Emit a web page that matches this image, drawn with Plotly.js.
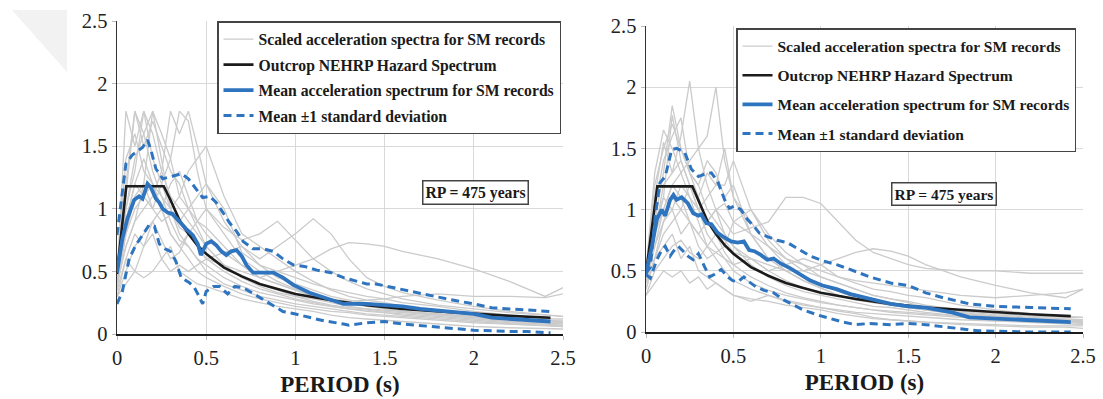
<!DOCTYPE html>
<html>
<head>
<meta charset="utf-8">
<script src="https://cdn.plot.ly/plotly-3.0.1.min.js"></script>
<style>
html,body{margin:0;padding:0;background:#fff;}
#chart{width:1103px;height:399px;}
</style>
</head>
<body>
<div id="chart"></div>
<script>
// ---------------- DATA ----------------
const recordPeriods = [0, 0.05, 0.1, 0.15, 0.2, 0.25, 0.3, 0.35, 0.4, 0.45, 0.5, 0.6, 0.7, 0.8, 0.9, 1.0, 1.1, 1.2, 1.3, 1.4, 1.5, 1.6, 1.8, 2.0, 2.2, 2.4, 2.5];

const leftRecords = [
  [0.5, 1.2, 1.78, 1.6, 1.3, 1.1, 0.9, 0.75, 0.7, 0.6, 0.55, 0.45, 0.38, 0.33, 0.3, 0.27, 0.24, 0.22, 0.2, 0.18, 0.17, 0.15, 0.13, 0.11, 0.09, 0.08, 0.07],
  [0.45, 1.78, 1.5, 1.78, 1.4, 1.2, 1.0, 0.85, 0.8, 0.7, 0.6, 0.5, 0.42, 0.36, 0.32, 0.28, 0.25, 0.22, 0.2, 0.19, 0.17, 0.16, 0.14, 0.12, 0.1, 0.09, 0.08],
  [0.4, 1.0, 1.3, 1.78, 1.6, 1.3, 1.1, 1.0, 0.9, 0.8, 0.7, 0.55, 0.45, 0.38, 0.33, 0.3, 0.26, 0.23, 0.21, 0.2, 0.19, 0.18, 0.16, 0.14, 0.12, 0.1, 0.1],
  [0.35, 0.8, 1.1, 1.2, 1.78, 1.4, 1.0, 0.8, 0.7, 0.6, 0.5, 0.4, 0.35, 0.3, 0.27, 0.24, 0.22, 0.2, 0.18, 0.16, 0.15, 0.14, 0.12, 0.1, 0.08, 0.07, 0.06],
  [0.5, 0.9, 1.2, 1.1, 1.0, 1.2, 1.4, 1.78, 1.7, 1.3, 1.0, 0.8, 0.6, 0.5, 0.42, 0.36, 0.3, 0.27, 0.25, 0.23, 0.2, 0.18, 0.15, 0.13, 0.11, 0.1, 0.1],
  [0.4, 0.7, 0.9, 1.0, 1.1, 1.3, 1.78, 1.6, 1.78, 1.5, 1.2, 0.9, 0.7, 0.55, 0.45, 0.4, 0.35, 0.3, 0.27, 0.25, 0.23, 0.2, 0.17, 0.15, 0.13, 0.11, 0.1],
  [0.5, 0.8, 1.0, 1.1, 1.2, 1.1, 1.0, 1.1, 1.3, 1.4, 1.5, 1.1, 0.8, 0.7, 0.6, 0.5, 0.42, 0.35, 0.3, 0.27, 0.25, 0.22, 0.18, 0.15, 0.13, 0.1, 0.1],
  [0.3, 0.5, 0.7, 0.8, 0.9, 1.0, 0.8, 0.7, 0.8, 0.9, 1.0, 0.85, 0.75, 0.8, 0.9, 0.75, 0.6, 0.5, 0.42, 0.36, 0.32, 0.28, 0.23, 0.2, 0.17, 0.15, 0.14],
  [0.35, 0.6, 0.8, 0.7, 0.9, 0.75, 0.6, 0.65, 0.8, 0.7, 0.6, 0.65, 0.7, 0.6, 0.7, 0.8, 0.92, 0.8, 0.6, 0.45, 0.38, 0.33, 0.27, 0.22, 0.18, 0.15, 0.14],
  [0.3, 0.4, 0.5, 0.45, 0.5, 0.6, 0.5, 0.55, 0.5, 0.55, 0.6, 0.55, 0.5, 0.45, 0.5, 0.55, 0.6, 0.68, 0.73, 0.72, 0.7, 0.66, 0.6, 0.52, 0.42, 0.3, 0.37],
  [0.5, 1.4, 1.6, 1.3, 1.2, 1.0, 0.8, 0.7, 0.6, 0.5, 0.45, 0.38, 0.32, 0.28, 0.25, 0.22, 0.2, 0.18, 0.17, 0.15, 0.14, 0.13, 0.11, 0.09, 0.08, 0.07, 0.06],
  [0.45, 1.1, 1.78, 1.5, 1.7, 1.5, 1.3, 1.2, 1.0, 0.85, 0.7, 0.55, 0.45, 0.4, 0.35, 0.3, 0.28, 0.25, 0.22, 0.2, 0.18, 0.17, 0.15, 0.13, 0.12, 0.11, 0.1],
  [0.4, 0.9, 1.2, 1.4, 1.2, 1.0, 1.2, 1.3, 1.1, 0.9, 0.8, 0.65, 0.55, 0.45, 0.4, 0.35, 0.3, 0.28, 0.26, 0.27, 0.28, 0.3, 0.32, 0.3, 0.3, 0.29, 0.32],
  [0.3, 0.6, 0.5, 0.7, 0.8, 0.6, 0.7, 0.5, 0.45, 0.4, 0.38, 0.33, 0.28, 0.25, 0.22, 0.2, 0.18, 0.15, 0.13, 0.12, 0.11, 0.1, 0.08, 0.06, 0.05, 0.04, 0.04],
  [0.5, 1.0, 1.4, 1.6, 1.78, 1.6, 1.4, 1.1, 1.0, 0.9, 0.85, 0.7, 0.55, 0.45, 0.4, 0.35, 0.3, 0.27, 0.24, 0.22, 0.2, 0.18, 0.16, 0.14, 0.12, 0.1, 0.09],
  [0.4, 0.7, 0.9, 1.2, 1.0, 0.9, 0.95, 0.9, 1.0, 1.1, 1.2, 1.0, 0.65, 0.55, 0.5, 0.45, 0.4, 0.36, 0.33, 0.3, 0.28, 0.25, 0.22, 0.18, 0.15, 0.12, 0.12]
];

const rightRecords = [
  [0.5, 1.1, 1.55, 1.3, 1.4, 1.2, 1.0, 0.8, 0.7, 0.6, 0.5, 0.4, 0.34, 0.3, 0.27, 0.24, 0.22, 0.2, 0.18, 0.16, 0.15, 0.14, 0.12, 0.1, 0.09, 0.08, 0.07],
  [0.45, 0.9, 1.3, 1.85, 1.5, 1.3, 1.1, 0.9, 0.8, 0.65, 0.55, 0.45, 0.38, 0.32, 0.28, 0.25, 0.22, 0.2, 0.18, 0.17, 0.16, 0.15, 0.13, 0.11, 0.1, 0.09, 0.08],
  [0.5, 0.8, 1.2, 1.3, 1.6, 2.05, 1.5, 1.2, 1.0, 0.8, 0.7, 0.55, 0.45, 0.38, 0.33, 0.3, 0.27, 0.24, 0.21, 0.2, 0.18, 0.16, 0.13, 0.11, 0.1, 0.09, 0.08],
  [0.4, 0.7, 1.0, 1.2, 1.3, 1.4, 1.5, 1.6, 2.0, 1.4, 1.1, 0.8, 0.6, 0.5, 0.42, 0.36, 0.3, 0.26, 0.24, 0.22, 0.2, 0.18, 0.14, 0.12, 0.1, 0.09, 0.08],
  [0.5, 0.9, 1.1, 1.77, 1.4, 1.2, 1.1, 1.3, 1.2, 1.5, 1.1, 0.9, 0.7, 0.55, 0.45, 0.38, 0.33, 0.28, 0.25, 0.22, 0.2, 0.18, 0.15, 0.12, 0.1, 0.09, 0.08],
  [0.45, 0.8, 1.1, 1.0, 1.2, 1.1, 1.0, 1.1, 1.2, 1.2, 1.4, 1.0, 0.8, 0.65, 0.55, 0.45, 0.4, 0.35, 0.3, 0.27, 0.24, 0.2, 0.16, 0.13, 0.11, 0.1, 0.09],
  [0.35, 0.6, 0.8, 0.9, 1.0, 0.9, 0.8, 0.9, 1.0, 0.9, 0.8, 0.85, 0.9, 1.1, 1.1, 1.05, 0.9, 0.75, 0.65, 0.6, 0.55, 0.52, 0.5, 0.5, 0.48, 0.48, 0.48],
  [0.3, 0.5, 0.6, 0.7, 0.75, 0.65, 0.6, 0.7, 0.65, 0.6, 0.55, 0.6, 0.55, 0.5, 0.5, 0.55, 0.6, 0.65, 0.68, 0.66, 0.62, 0.55, 0.45, 0.38, 0.32, 0.28, 0.35],
  [0.4, 0.6, 0.9, 1.0, 0.8, 0.9, 0.7, 0.6, 0.65, 0.7, 0.9, 1.0, 0.75, 0.6, 0.5, 0.45, 0.4, 0.35, 0.3, 0.27, 0.25, 0.22, 0.18, 0.15, 0.13, 0.12, 0.12],
  [0.3, 0.4, 0.5, 0.45, 0.5, 0.4, 0.45, 0.35, 0.4, 0.35, 0.3, 0.25, 0.3, 0.25, 0.22, 0.2, 0.17, 0.15, 0.12, 0.1, 0.09, 0.08, 0.07, 0.06, 0.05, 0.05, 0.05],
  [0.5, 1.3, 1.65, 1.5, 1.3, 1.1, 0.9, 0.7, 0.6, 0.5, 0.42, 0.35, 0.3, 0.26, 0.23, 0.2, 0.18, 0.16, 0.15, 0.14, 0.13, 0.12, 0.1, 0.09, 0.08, 0.07, 0.06],
  [0.45, 1.0, 1.4, 1.6, 1.75, 1.3, 1.2, 1.4, 1.3, 1.1, 1.2, 0.8, 0.6, 0.5, 0.42, 0.36, 0.3, 0.27, 0.24, 0.22, 0.2, 0.18, 0.15, 0.13, 0.11, 0.1, 0.1],
  [0.4, 0.8, 1.0, 1.2, 1.1, 0.9, 0.8, 0.7, 0.8, 0.75, 0.65, 0.6, 0.5, 0.55, 0.6, 0.55, 0.45, 0.4, 0.35, 0.33, 0.3, 0.28, 0.22, 0.18, 0.15, 0.13, 0.12],
  [0.35, 0.6, 0.7, 0.8, 0.6, 0.7, 0.5, 0.45, 0.4, 0.35, 0.3, 0.27, 0.25, 0.22, 0.2, 0.18, 0.15, 0.13, 0.11, 0.1, 0.09, 0.08, 0.06, 0.05, 0.04, 0.04, 0.03],
  [0.5, 1.2, 1.5, 1.7, 1.5, 1.3, 1.2, 1.0, 0.9, 0.8, 0.7, 0.6, 0.5, 0.42, 0.36, 0.32, 0.3, 0.27, 0.25, 0.24, 0.22, 0.2, 0.17, 0.14, 0.12, 0.11, 0.1],
  [0.4, 0.7, 0.9, 1.1, 1.0, 1.2, 1.0, 0.9, 1.0, 1.05, 0.9, 0.8, 0.7, 0.6, 0.55, 0.5, 0.45, 0.42, 0.4, 0.38, 0.36, 0.34, 0.3, 0.28, 0.3, 0.32, 0.35]
];

const nehrpLeftT  = [0, 0.052, 0.262, 0.3, 0.35, 0.4, 0.45, 0.5, 0.6, 0.7, 0.8, 0.9, 1.0, 1.2, 1.4, 1.6, 1.8, 2.0, 2.2, 2.43];
const nehrpLeftSa = [0.48, 1.18, 1.18, 1.07, 0.91, 0.80, 0.71, 0.64, 0.53, 0.46, 0.40, 0.36, 0.32, 0.27, 0.23, 0.20, 0.18, 0.16, 0.145, 0.13];
const nehrpRightT  = [0, 0.065, 0.265, 0.3, 0.35, 0.4, 0.45, 0.5, 0.6, 0.7, 0.8, 0.9, 1.0, 1.2, 1.4, 1.6, 1.8, 2.0, 2.2, 2.43];
const nehrpRightSa = [0.48, 1.19, 1.19, 1.07, 0.91, 0.80, 0.71, 0.64, 0.53, 0.46, 0.40, 0.36, 0.32, 0.27, 0.23, 0.20, 0.18, 0.16, 0.145, 0.13];

const leftMeanT  = [0, 0.03, 0.058, 0.096, 0.124, 0.143, 0.171, 0.19, 0.218, 0.237, 0.256, 0.284, 0.31, 0.34, 0.387, 0.425, 0.453, 0.47, 0.5, 0.528, 0.556, 0.585, 0.613, 0.64, 0.67, 0.7, 0.726, 0.763, 0.82, 0.876, 0.93, 0.99, 1.08, 1.16, 1.27, 1.4, 1.5, 1.6, 1.7, 1.85, 2.0, 2.1, 2.2, 2.3, 2.43];
const leftMeanSa = [0.49, 0.76, 0.92, 1.07, 1.10, 1.08, 1.20, 1.17, 1.08, 1.05, 1.0, 0.97, 0.96, 0.91, 0.84, 0.79, 0.72, 0.63, 0.72, 0.74, 0.71, 0.66, 0.63, 0.66, 0.67, 0.62, 0.55, 0.49, 0.49, 0.49, 0.45, 0.39, 0.33, 0.29, 0.24, 0.24, 0.23, 0.22, 0.2, 0.18, 0.16, 0.13, 0.12, 0.11, 0.1];
const leftUpperT  = [0, 0.05, 0.086, 0.143, 0.171, 0.19, 0.218, 0.256, 0.31, 0.36, 0.4, 0.44, 0.48, 0.52, 0.556, 0.594, 0.63, 0.67, 0.707, 0.763, 0.82, 0.876, 0.93, 0.99, 1.05, 1.12, 1.2, 1.27, 1.4, 1.45, 1.55, 1.7, 1.85, 2.0, 2.1, 2.2, 2.3, 2.43];
const leftUpperSa = [0.79, 1.36, 1.43, 1.49, 1.55, 1.47, 1.32, 1.24, 1.26, 1.28, 1.24, 1.16, 1.09, 1.1, 1.05, 0.97, 0.89, 0.82, 0.74, 0.68, 0.68, 0.66, 0.6, 0.55, 0.54, 0.51, 0.49, 0.45, 0.4, 0.4, 0.37, 0.32, 0.28, 0.24, 0.21, 0.2, 0.19, 0.18];
const leftLowerT  = [0, 0.03, 0.068, 0.105, 0.143, 0.18, 0.21, 0.237, 0.27, 0.3, 0.33, 0.36, 0.406, 0.434, 0.453, 0.48, 0.5, 0.54, 0.575, 0.62, 0.66, 0.707, 0.744, 0.8, 0.857, 0.93, 1.0, 1.08, 1.16, 1.27, 1.3, 1.4, 1.5, 1.6, 1.75, 2.0, 2.2, 2.3, 2.43];
const leftLowerSa = [0.24, 0.34, 0.6, 0.71, 0.79, 0.87, 0.86, 0.72, 0.68, 0.66, 0.58, 0.45, 0.41, 0.37, 0.32, 0.24, 0.34, 0.38, 0.38, 0.32, 0.38, 0.37, 0.34, 0.29, 0.24, 0.18, 0.16, 0.13, 0.105, 0.08, 0.07, 0.09, 0.1, 0.08, 0.06, 0.03, 0.02, 0.02, 0.01];

const rightMeanT  = [0, 0.034, 0.062, 0.09, 0.11, 0.138, 0.157, 0.175, 0.204, 0.24, 0.27, 0.3, 0.317, 0.345, 0.374, 0.41, 0.45, 0.487, 0.525, 0.56, 0.59, 0.62, 0.657, 0.694, 0.73, 0.77, 0.826, 0.88, 0.94, 1.01, 1.09, 1.17, 1.28, 1.4, 1.5, 1.6, 1.75, 1.85, 2.0, 2.2, 2.3, 2.43];
const rightMeanSa = [0.48, 0.70, 0.92, 1.0, 0.95, 1.08, 1.12, 1.08, 1.1, 1.05, 0.97, 0.95, 0.96, 0.89, 0.88, 0.81, 0.77, 0.74, 0.73, 0.74, 0.67, 0.66, 0.63, 0.59, 0.6, 0.56, 0.52, 0.47, 0.42, 0.38, 0.35, 0.31, 0.27, 0.23, 0.21, 0.2, 0.16, 0.12, 0.11, 0.1, 0.09, 0.08];
const rightUpperT  = [0, 0.025, 0.053, 0.08, 0.11, 0.147, 0.175, 0.22, 0.26, 0.3, 0.336, 0.374, 0.41, 0.45, 0.477, 0.506, 0.543, 0.58, 0.62, 0.647, 0.694, 0.75, 0.81, 0.883, 0.94, 1.015, 1.09, 1.17, 1.28, 1.4, 1.5, 1.6, 1.7, 1.85, 2.0, 2.2, 2.43];
const rightUpperSa = [0.48, 0.53, 0.95, 1.22, 1.27, 1.49, 1.5, 1.47, 1.33, 1.27, 1.29, 1.3, 1.23, 1.08, 1.01, 1.03, 1.0, 0.92, 0.86, 0.81, 0.78, 0.75, 0.73, 0.67, 0.62, 0.58, 0.55, 0.51, 0.45, 0.4, 0.38, 0.32, 0.28, 0.23, 0.21, 0.2, 0.19];
const rightLowerT  = [0, 0.025, 0.062, 0.09, 0.11, 0.138, 0.157, 0.185, 0.213, 0.24, 0.27, 0.3, 0.336, 0.364, 0.39, 0.43, 0.468, 0.496, 0.525, 0.56, 0.59, 0.628, 0.675, 0.73, 0.79, 0.845, 0.9, 0.98, 1.05, 1.13, 1.2, 1.28, 1.4, 1.5, 1.6, 1.8, 1.9, 2.2, 2.43];
const rightLowerSa = [0.47, 0.44, 0.59, 0.67, 0.70, 0.62, 0.66, 0.70, 0.66, 0.62, 0.59, 0.64, 0.53, 0.45, 0.47, 0.51, 0.45, 0.42, 0.41, 0.45, 0.41, 0.37, 0.34, 0.32, 0.26, 0.22, 0.18, 0.14, 0.11, 0.08, 0.06, 0.07, 0.06, 0.07, 0.06, 0.03, 0.01, 0.0, 0.0];

const xTicks = [0, 0.5, 1, 1.5, 2, 2.5];
const xTickLabels = ['0', '0.5', '1', '1.5', '2', '2.5'];
const yTicks = [0, 0.5, 1, 1.5, 2, 2.5];
const yTickLabels = ['0', '0.5', '1', '1.5', '2', '2.5'];

const legendNames = [
  'Scaled acceleration spectra for SM records',
  'Outcrop NEHRP Hazard Spectrum',
  'Mean acceleration spectrum for SM records',
  'Mean \u00b11 standard deviation'
];
const rpLabel = 'RP = 475 years';

// ---------------- STYLE ----------------
const SERIF = 'Liberation Serif, Times New Roman, serif';
const GRAY = '#cbcbcb';
const BLUE = '#2f74bf';
const BLACK = '#1b1b1b';

function buildPanel(records, nT, nSa, mT, mSa, uT, uSa, lT, lSa, xa, ya, leg) {
  const tr = [];
  records.forEach((rec, i) => {
    tr.push({
      x: recordPeriods, y: rec, xaxis: xa, yaxis: ya, type: 'scatter', mode: 'lines',
      line: {color: GRAY, width: 1.3},
      name: '<b>' + legendNames[0] + '</b>', legend: leg, legendgroup: leg + 'g0', legendrank: 1,
      showlegend: i === 0, hoverinfo: 'skip'
    });
  });
  tr.push({x: nT, y: nSa, xaxis: xa, yaxis: ya, mode: 'lines', line: {color: BLACK, width: 2.6},
    name: '<b>' + legendNames[1] + '</b>', legend: leg, legendgroup: leg + 'g1', legendrank: 2});
  tr.push({x: uT, y: uSa, xaxis: xa, yaxis: ya, mode: 'lines', line: {color: BLUE, width: 3, dash: '8px,5px'},
    name: '<b>' + legendNames[3] + '</b>', legend: leg, legendgroup: leg + 'g3', legendrank: 4});
  tr.push({x: lT, y: lSa, xaxis: xa, yaxis: ya, mode: 'lines', line: {color: BLUE, width: 3, dash: '8px,5px'},
    name: '<b>' + legendNames[3] + '</b>', legend: leg, legendgroup: leg + 'g3', legendrank: 4, showlegend: false});
  tr.push({x: mT, y: mSa, xaxis: xa, yaxis: ya, mode: 'lines', line: {color: BLUE, width: 3.8},
    name: '<b>' + legendNames[2] + '</b>', legend: leg, legendgroup: leg + 'g2', legendrank: 3});
  return tr;
}

const data = [].concat(
  buildPanel(leftRecords, nehrpLeftT, nehrpLeftSa, leftMeanT, leftMeanSa, leftUpperT, leftUpperSa, leftLowerT, leftLowerSa, 'x', 'y', 'legend'),
  buildPanel(rightRecords, nehrpRightT, nehrpRightSa, rightMeanT, rightMeanSa, rightUpperT, rightUpperSa, rightLowerT, rightLowerSa, 'x2', 'y2', 'legend2')
);

const W = 1103, H = 399;
function px(x) { return x / W; }
function py(y) { return 1 - y / H; }

function xAxis(domain, anchor) {
  return {
    domain: domain, anchor: anchor, range: [0, 2.5], tickvals: xTicks, ticktext: xTickLabels,
    showgrid: true, gridcolor: '#d9d9d9', gridwidth: 1, zeroline: false,
    showline: true, linecolor: BLACK, linewidth: 2,
    ticks: 'outside', ticklen: 4, tickcolor: '#bbbbbb', tickwidth: 1,
    tickfont: {family: SERIF, size: 20.5, color: '#222'},
    title: {text: '<b>PERIOD (s)</b>', font: {family: SERIF, size: 23, color: '#1a1a1a'}, standoff: 8},
    fixedrange: true
  };
}
function yAxis(domain, anchor) {
  return {
    domain: domain, anchor: anchor, range: [0, 2.5], tickvals: yTicks, ticktext: yTickLabels,
    showgrid: true, gridcolor: '#d9d9d9', gridwidth: 1, zeroline: false,
    showline: true, linecolor: '#333', linewidth: 1.5,
    ticks: 'outside', ticklen: 4, tickcolor: '#bbbbbb', tickwidth: 1,
    tickfont: {family: SERIF, size: 20.5, color: '#222'},
    fixedrange: true
  };
}

const legendBase = {
  bgcolor: '#ffffff', bordercolor: '#444', borderwidth: 1.5,
  font: {family: SERIF, size: 15.7, color: '#1a1a1a'},
  xanchor: 'left', yanchor: 'top', traceorder: 'grouped', tracegroupgap: 2,
  itemwidth: 30
};

const layout = {
  width: W, height: H,
  margin: {l: 0, r: 0, t: 0, b: 0},
  font: {family: SERIF, color: '#1a1a1a'},
  paper_bgcolor: '#ffffff', plot_bgcolor: '#ffffff',
  showlegend: true,
  xaxis: xAxis([px(117), px(563)], 'y'),
  yaxis: yAxis([py(334), py(21)], 'x'),
  xaxis2: xAxis([px(646), px(1083)], 'y2'),
  yaxis2: yAxis([py(332), py(26)], 'x2'),
  legend: Object.assign({}, legendBase, {x: px(217), y: py(21)}),
  legend2: Object.assign({}, legendBase, {x: px(736), y: py(28), tracegroupgap: 6, font: {family: SERIF, size: 15.5, color: '#1a1a1a'}}),
  annotations: [
    {text: '<b>' + rpLabel + '</b>', xref: 'paper', yref: 'paper', x: px(475), y: py(192),
     showarrow: false, font: {family: SERIF, size: 15.7, color: '#1a1a1a'},
     bgcolor: '#fff', bordercolor: '#444', borderwidth: 1.5, borderpad: 2},
    {text: '<b>' + rpLabel + '</b>', xref: 'paper', yref: 'paper', x: px(997), y: py(193.5),
     showarrow: false, font: {family: SERIF, size: 15.5, color: '#1a1a1a'},
     bgcolor: '#fff', bordercolor: '#444', borderwidth: 1.5, borderpad: 2}
  ],
  shapes: [
    {type: 'path', xref: 'paper', yref: 'paper', layer: 'below',
     path: 'M ' + px(12) + ' ' + py(10) + ' L ' + px(67) + ' ' + py(10) + ' L ' + px(67) + ' ' + py(72) + ' Z',
     fillcolor: '#f2f2f2', line: {width: 0}}
  ]
};

Plotly.newPlot('chart', data, layout, {staticPlot: true, displayModeBar: false});
</script>
</body>
</html>
